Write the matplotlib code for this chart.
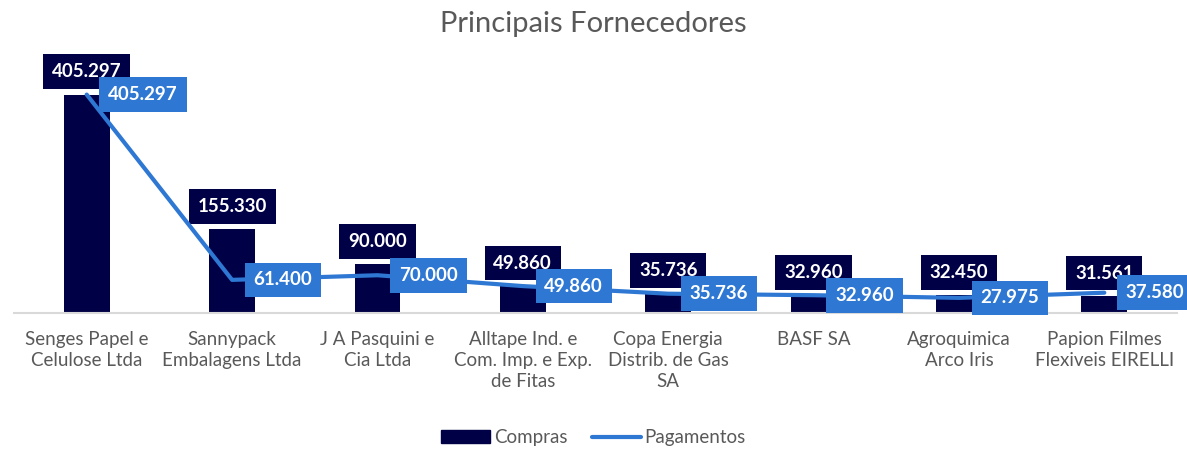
import matplotlib
matplotlib.use("Agg")
import matplotlib.pyplot as plt
import numpy as np

plt.rcParams['font.family'] = ['Lato', 'DejaVu Sans']

# --- data ---
categories = ["Senges Papel e\nCelulose Ltda", "Sannypack\nEmbalagens Ltda",
              "J A Pasquini e\nCia Ltda", "Alltape Ind. e\nCom. Imp. e Exp.\nde Fitas",
              "Copa Energia\nDistrib. de Gas\nSA", "BASF SA",
              "Agroquimica\nArco Iris", "Papion Filmes\nFlexiveis EIRELLI"]
compras = [405297, 155330, 90000, 49860, 35736, 32960, 32450, 31561]
pagamentos = [405297, 61400, 70000, 49860, 35736, 32960, 27975, 37580]

navy = "#000046"
blue = "#2E78D4"
gray = "#595959"


def fmt(v):
    return f"{v:,}".replace(",", ".")


fig = plt.figure(figsize=(11.87, 4.49), dpi=100)
ax = fig.add_axes([14 / 1187, 0.303, 1163 / 1187, 0.54])

x = np.arange(len(categories))
ax.bar(x, compras, width=0.315, color=navy, zorder=2)
ax.plot(x, pagamentos, color=blue, lw=3, solid_capstyle='round', zorder=4)

# bar labels
for xi, v in zip(x, compras):
    ax.annotate(fmt(v), (xi, v), xytext=(0, 16.5), textcoords='offset points',
                ha='center', va='center', color='white', fontsize=13.5, fontweight='bold',
                bbox=dict(boxstyle='square,pad=0.47', fc=navy, ec='none'), zorder=3)

# line labels
for xi, v in zip(x, pagamentos):
    ax.annotate(fmt(v), (xi, v), xytext=(15.5, 0), textcoords='offset points',
                ha='left', va='center', color='white', fontsize=13.5, fontweight='bold',
                bbox=dict(boxstyle='square,pad=0.47', fc=blue, ec='none'), zorder=5)

ax.set_xlim(-0.5, len(categories) - 0.5)
ax.set_ylim(0, 450000)
ax.set_yticks([])
ax.set_xticks(x)
ax.set_xticklabels(categories, fontsize=13.5, color=gray, linespacing=1.3)
ax.tick_params(axis='x', length=0, pad=13)
for s in ['top', 'right', 'left']:
    ax.spines[s].set_visible(False)
ax.spines['bottom'].set_color('#D9D9D9')
ax.spines['bottom'].set_linewidth(1.5)

fig.suptitle("Principais Fornecedores", y=0.975, fontsize=21, color=gray)

handles = [plt.Rectangle((0, 0), 1, 1, color=navy),
           plt.Line2D([], [], color=blue, lw=3, solid_capstyle='round')]
fig.legend(handles, ["Compras", "Pagamentos"], loc='center', bbox_to_anchor=(0.5, 0.025),
           ncol=2, frameon=False, fontsize=13.5, labelcolor=gray, handlelength=2.6,
           handletextpad=0.2, columnspacing=1.3, handleheight=0.7)

fig.savefig("out.png", dpi=100)
